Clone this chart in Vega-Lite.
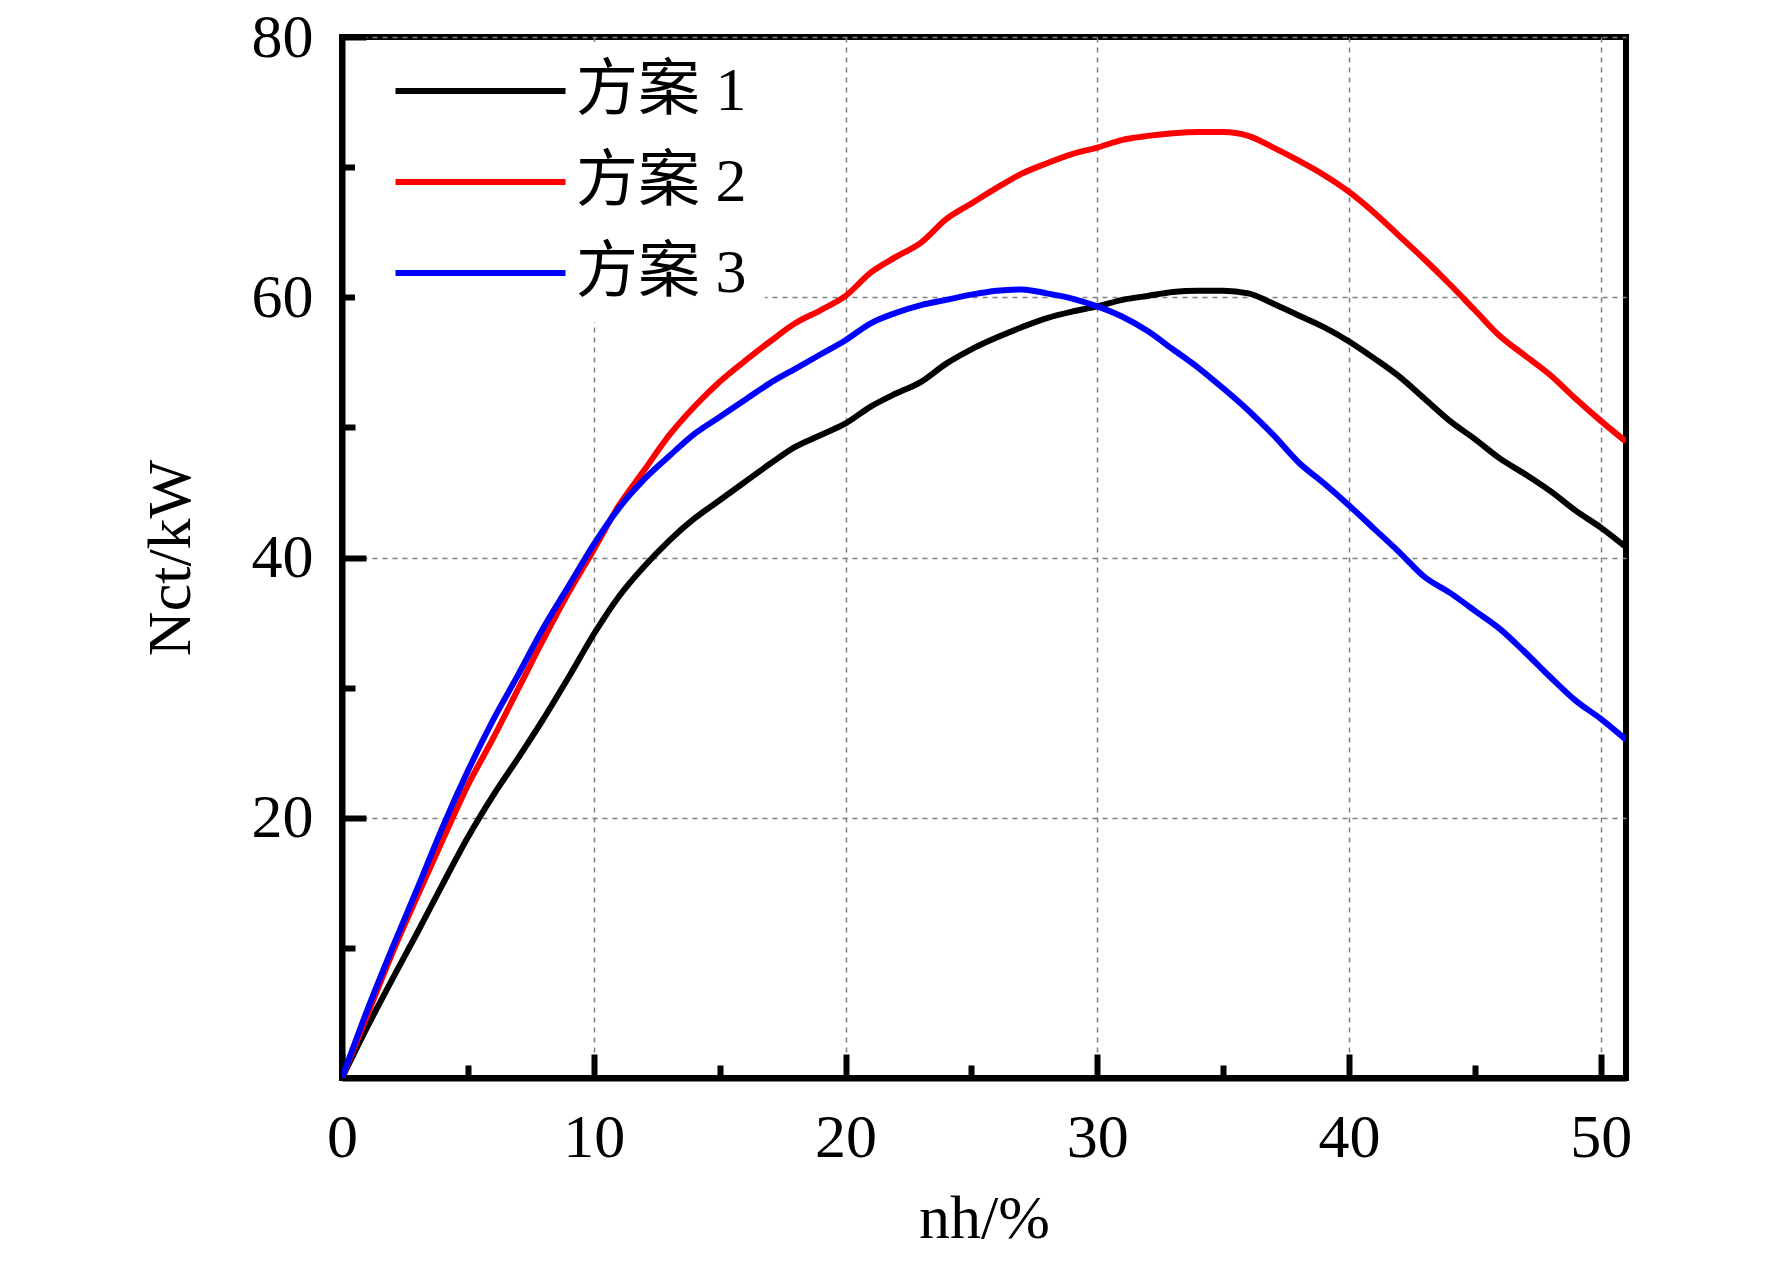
{
  "$schema": "https://vega.github.io/schema/vega-lite/v6.json",
  "description": "Nct/kW versus nh/% for three schemes",
  "autosize": {"type": "none"},
  "width": 1284,
  "height": 1041,
  "padding": {"left": 342, "top": 37, "right": 146, "bottom": 196},
  "background": "white",
  "data": {
    "values": [
      {"s": "方案 1", "x": 0, "y": 0}, {"s": "方案 1", "x": 1, "y": 3.9}, {"s": "方案 1", "x": 2, "y": 7.6}, {"s": "方案 1", "x": 3, "y": 11.2}, {"s": "方案 1", "x": 4, "y": 14.9}, {"s": "方案 1", "x": 5, "y": 18.5}, {"s": "方案 1", "x": 6, "y": 21.7}, {"s": "方案 1", "x": 7, "y": 24.6}, {"s": "方案 1", "x": 8, "y": 27.6}, {"s": "方案 1", "x": 9, "y": 30.8}, {"s": "方案 1", "x": 10, "y": 34.1},
      {"s": "方案 1", "x": 11, "y": 37.0}, {"s": "方案 1", "x": 12, "y": 39.3}, {"s": "方案 1", "x": 13, "y": 41.3}, {"s": "方案 1", "x": 14, "y": 43.0}, {"s": "方案 1", "x": 15, "y": 44.4}, {"s": "方案 1", "x": 16, "y": 45.8}, {"s": "方案 1", "x": 17, "y": 47.2}, {"s": "方案 1", "x": 18, "y": 48.5}, {"s": "方案 1", "x": 19, "y": 49.4}, {"s": "方案 1", "x": 20, "y": 50.3},
      {"s": "方案 1", "x": 21, "y": 51.6}, {"s": "方案 1", "x": 22, "y": 52.6}, {"s": "方案 1", "x": 23, "y": 53.5}, {"s": "方案 1", "x": 24, "y": 54.9}, {"s": "方案 1", "x": 25, "y": 56.0}, {"s": "方案 1", "x": 26, "y": 56.9}, {"s": "方案 1", "x": 27, "y": 57.7}, {"s": "方案 1", "x": 28, "y": 58.4}, {"s": "方案 1", "x": 29, "y": 58.9}, {"s": "方案 1", "x": 30, "y": 59.3},
      {"s": "方案 1", "x": 31, "y": 59.8}, {"s": "方案 1", "x": 32, "y": 60.1}, {"s": "方案 1", "x": 33, "y": 60.4}, {"s": "方案 1", "x": 34, "y": 60.5}, {"s": "方案 1", "x": 35, "y": 60.5}, {"s": "方案 1", "x": 36, "y": 60.3}, {"s": "方案 1", "x": 37, "y": 59.5}, {"s": "方案 1", "x": 38, "y": 58.6}, {"s": "方案 1", "x": 39, "y": 57.7}, {"s": "方案 1", "x": 40, "y": 56.6},
      {"s": "方案 1", "x": 41, "y": 55.3}, {"s": "方案 1", "x": 42, "y": 53.9}, {"s": "方案 1", "x": 43, "y": 52.2}, {"s": "方案 1", "x": 44, "y": 50.5}, {"s": "方案 1", "x": 45, "y": 49.1}, {"s": "方案 1", "x": 46, "y": 47.6}, {"s": "方案 1", "x": 47, "y": 46.4}, {"s": "方案 1", "x": 48, "y": 45.1}, {"s": "方案 1", "x": 49, "y": 43.6}, {"s": "方案 1", "x": 50, "y": 42.3}, {"s": "方案 1", "x": 51, "y": 40.8},

      {"s": "方案 2", "x": 0, "y": 0}, {"s": "方案 2", "x": 1, "y": 4.8}, {"s": "方案 2", "x": 2, "y": 9.6}, {"s": "方案 2", "x": 3, "y": 14.0}, {"s": "方案 2", "x": 4, "y": 18.3}, {"s": "方案 2", "x": 5, "y": 22.5}, {"s": "方案 2", "x": 6, "y": 26.1}, {"s": "方案 2", "x": 7, "y": 29.9}, {"s": "方案 2", "x": 8, "y": 33.7}, {"s": "方案 2", "x": 9, "y": 37.3}, {"s": "方案 2", "x": 10, "y": 40.6},
      {"s": "方案 2", "x": 11, "y": 44.0}, {"s": "方案 2", "x": 12, "y": 46.7}, {"s": "方案 2", "x": 13, "y": 49.4}, {"s": "方案 2", "x": 14, "y": 51.6}, {"s": "方案 2", "x": 15, "y": 53.5}, {"s": "方案 2", "x": 16, "y": 55.1}, {"s": "方案 2", "x": 17, "y": 56.6}, {"s": "方案 2", "x": 18, "y": 58.0}, {"s": "方案 2", "x": 19, "y": 59.0}, {"s": "方案 2", "x": 20, "y": 60.1},
      {"s": "方案 2", "x": 21, "y": 61.9}, {"s": "方案 2", "x": 22, "y": 63.1}, {"s": "方案 2", "x": 23, "y": 64.2}, {"s": "方案 2", "x": 24, "y": 66.0}, {"s": "方案 2", "x": 25, "y": 67.2}, {"s": "方案 2", "x": 26, "y": 68.4}, {"s": "方案 2", "x": 27, "y": 69.5}, {"s": "方案 2", "x": 28, "y": 70.3}, {"s": "方案 2", "x": 29, "y": 71.0}, {"s": "方案 2", "x": 30, "y": 71.5},
      {"s": "方案 2", "x": 31, "y": 72.1}, {"s": "方案 2", "x": 32, "y": 72.4}, {"s": "方案 2", "x": 33, "y": 72.6}, {"s": "方案 2", "x": 34, "y": 72.7}, {"s": "方案 2", "x": 35, "y": 72.7}, {"s": "方案 2", "x": 36, "y": 72.4}, {"s": "方案 2", "x": 37, "y": 71.5}, {"s": "方案 2", "x": 38, "y": 70.5}, {"s": "方案 2", "x": 39, "y": 69.4}, {"s": "方案 2", "x": 40, "y": 68.1},
      {"s": "方案 2", "x": 41, "y": 66.5}, {"s": "方案 2", "x": 42, "y": 64.7}, {"s": "方案 2", "x": 43, "y": 62.9}, {"s": "方案 2", "x": 44, "y": 61.0}, {"s": "方案 2", "x": 45, "y": 59.0}, {"s": "方案 2", "x": 46, "y": 57.0}, {"s": "方案 2", "x": 47, "y": 55.5}, {"s": "方案 2", "x": 48, "y": 54.0}, {"s": "方案 2", "x": 49, "y": 52.2}, {"s": "方案 2", "x": 50, "y": 50.5}, {"s": "方案 2", "x": 51, "y": 48.9},

      {"s": "方案 3", "x": 0, "y": 0}, {"s": "方案 3", "x": 1, "y": 5.2}, {"s": "方案 3", "x": 2, "y": 10.0}, {"s": "方案 3", "x": 3, "y": 14.6}, {"s": "方案 3", "x": 4, "y": 19.3}, {"s": "方案 3", "x": 5, "y": 23.6}, {"s": "方案 3", "x": 6, "y": 27.5}, {"s": "方案 3", "x": 7, "y": 31.0}, {"s": "方案 3", "x": 8, "y": 34.6}, {"s": "方案 3", "x": 9, "y": 37.8}, {"s": "方案 3", "x": 10, "y": 41.0},
      {"s": "方案 3", "x": 11, "y": 43.8}, {"s": "方案 3", "x": 12, "y": 46.0}, {"s": "方案 3", "x": 13, "y": 47.8}, {"s": "方案 3", "x": 14, "y": 49.5}, {"s": "方案 3", "x": 15, "y": 50.8}, {"s": "方案 3", "x": 16, "y": 52.1}, {"s": "方案 3", "x": 17, "y": 53.4}, {"s": "方案 3", "x": 18, "y": 54.5}, {"s": "方案 3", "x": 19, "y": 55.6}, {"s": "方案 3", "x": 20, "y": 56.7},
      {"s": "方案 3", "x": 21, "y": 58.0}, {"s": "方案 3", "x": 22, "y": 58.8}, {"s": "方案 3", "x": 23, "y": 59.4}, {"s": "方案 3", "x": 24, "y": 59.8}, {"s": "方案 3", "x": 25, "y": 60.2}, {"s": "方案 3", "x": 26, "y": 60.5}, {"s": "方案 3", "x": 27, "y": 60.6}, {"s": "方案 3", "x": 28, "y": 60.3}, {"s": "方案 3", "x": 29, "y": 59.9}, {"s": "方案 3", "x": 30, "y": 59.3},
      {"s": "方案 3", "x": 31, "y": 58.5}, {"s": "方案 3", "x": 32, "y": 57.4}, {"s": "方案 3", "x": 33, "y": 56.0}, {"s": "方案 3", "x": 34, "y": 54.6}, {"s": "方案 3", "x": 35, "y": 53.0}, {"s": "方案 3", "x": 36, "y": 51.3}, {"s": "方案 3", "x": 37, "y": 49.4}, {"s": "方案 3", "x": 38, "y": 47.3}, {"s": "方案 3", "x": 39, "y": 45.7}, {"s": "方案 3", "x": 40, "y": 44.0},
      {"s": "方案 3", "x": 41, "y": 42.2}, {"s": "方案 3", "x": 42, "y": 40.4}, {"s": "方案 3", "x": 43, "y": 38.5}, {"s": "方案 3", "x": 44, "y": 37.3}, {"s": "方案 3", "x": 45, "y": 35.9}, {"s": "方案 3", "x": 46, "y": 34.5}, {"s": "方案 3", "x": 47, "y": 32.7}, {"s": "方案 3", "x": 48, "y": 30.8}, {"s": "方案 3", "x": 49, "y": 29.0}, {"s": "方案 3", "x": 50, "y": 27.6}, {"s": "方案 3", "x": 51, "y": 26.0}
    ]
  },
  "layer": [
    {
      "mark": {"type": "line", "opacity": 0},
      "encoding": {
        "x": {
          "field": "x", "type": "quantitative",
          "scale": {"domain": [0, 51], "nice": false, "zero": false},
          "axis": {"orient": "bottom", "values": [5, 15, 25, 35, 45], "tickSize": -13, "labels": false, "domain": false, "grid": false, "title": null}
        },
        "y": {
          "field": "y", "type": "quantitative",
          "scale": {"domain": [0, 80], "nice": false},
          "axis": {"orient": "left", "values": [10, 30, 50, 70], "tickSize": -13, "labels": false, "domain": false, "grid": false, "title": null}
        },
        "detail": {"field": "s"}
      }
    },
    {
      "mark": {"type": "line", "strokeWidth": 6, "clip": true, "interpolate": "monotone"},
      "encoding": {
        "x": {
          "field": "x", "type": "quantitative",
          "axis": {"orient": "bottom", "values": [0, 10, 20, 30, 40, 50], "grid": true, "tickSize": -24, "labelFlush": false, "labelPadding": 53, "title": "nh/%", "titlePadding": 20}
        },
        "y": {
          "field": "y", "type": "quantitative",
          "axis": {"orient": "left", "values": [20, 40, 60, 80], "grid": true, "tickSize": -24, "labelFlush": false, "labelPadding": 53, "title": "Nct/kW", "titlePadding": 49}
        },
        "color": {
          "field": "s", "type": "nominal",
          "scale": {"domain": ["方案 1", "方案 2", "方案 3"], "range": ["#000000", "#ff0000", "#0000ff"]},
          "legend": {
            "title": null, "orient": "none", "legendX": 13, "legendY": 5,
            "symbolType": "M-1,0H19", "symbolSize": 289, "symbolStrokeWidth": 6,
            "rowPadding": 29, "labelOffset": 141, "labelLimit": 400, "padding": 18, "fillColor": "white"
          }
        }
      }
    }
  ],
  "resolve": {"axis": {"x": "independent", "y": "independent"}},
  "config": {
    "font": "Liberation Serif",
    "view": {"stroke": "black", "strokeWidth": 6},
    "axis": {
      "domainColor": "black", "domainWidth": 6, "tickColor": "black", "tickWidth": 6,
      "labelFont": "Liberation Serif", "labelFontSize": 62, "labelColor": "black",
      "titleFont": "Liberation Serif", "titleFontSize": 62, "titleFontWeight": "normal", "titleColor": "black",
      "gridColor": "#808080", "gridDash": [5, 5], "gridWidth": 1.5, "gridOpacity": 1
    },
    "legend": {
      "labelFont": "Liberation Serif, Noto Sans CJK SC", "labelFontSize": 62, "labelColor": "black"
    }
  }
}
